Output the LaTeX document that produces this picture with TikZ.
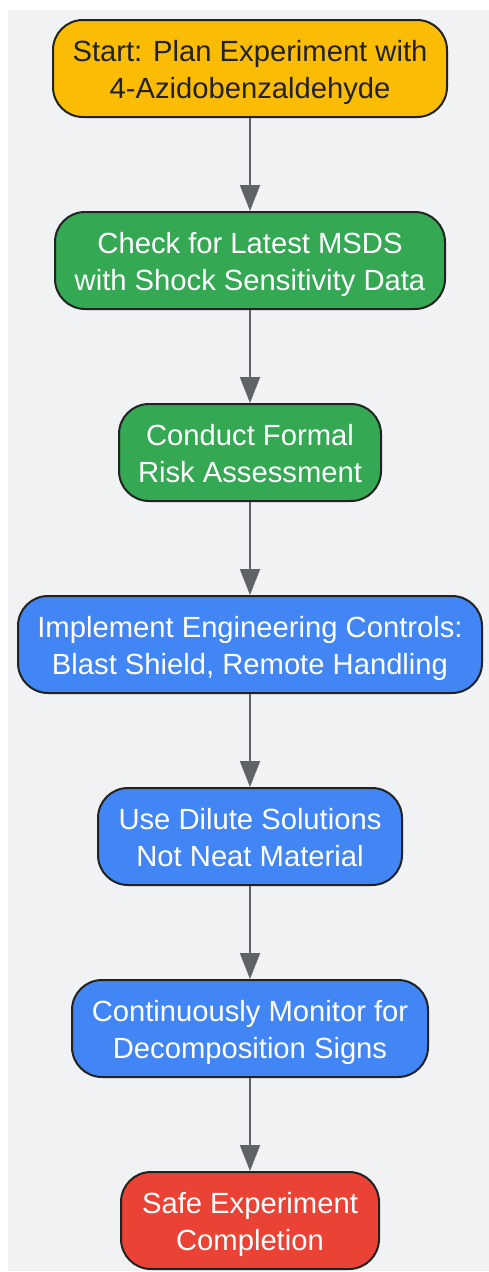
\documentclass[tikz,border=0pt]{standalone}
\usepackage{fontspec}
\setmainfont{Liberation Sans}
\usetikzlibrary{arrows.meta}
\definecolor{bggray}{HTML}{F1F2F4}
\definecolor{cyellow}{HTML}{FBBC05}
\definecolor{cgreen}{HTML}{34A853}
\definecolor{cblue}{HTML}{4285F4}
\definecolor{cred}{HTML}{EA4335}
\definecolor{edgegray}{HTML}{5F6368}
\definecolor{borderdark}{HTML}{222222}
\newcommand{\lstrut}{\rule[-6.6pt]{0pt}{36.6pt}}
\tikzset{
  flowbox/.style={draw=borderdark, line width=2pt, rounded corners=30pt,
    minimum height=97pt, inner sep=0pt, align=center,
    font=\fontsize{29.2}{36.6}\selectfont, text=white},
  flowarrow/.style={draw=edgegray, line width=2pt,
    -{Triangle[length=26pt,width=20pt]}},
}
\begin{document}
\begin{tikzpicture}[x=1pt,y=-1pt]
\useasboundingbox (0,0) rectangle (489,1272);
\fill[bggray] (8,10) rectangle (489,1271);
\node[flowbox, fill=cyellow, text=borderdark, minimum width=394pt] (n1) at (250,68.5) {\lstrut Start: Plan Experiment with\\\lstrut 4-Azidobenzaldehyde};
\node[flowbox, fill=cgreen, minimum width=390pt] (n2) at (250,260.5) {\lstrut Check for Latest MSDS\\\lstrut with Shock Sensitivity Data};
\node[flowbox, fill=cgreen, minimum width=262pt] (n3) at (250,452.5) {\lstrut Conduct Formal\\\lstrut Risk Assessment};
\node[flowbox, fill=cblue, minimum width=464pt] (n4) at (250,644.5) {\lstrut Implement Engineering Controls:\\\lstrut Blast Shield, Remote Handling};
\node[flowbox, fill=cblue, minimum width=304pt] (n5) at (250,836.5) {\lstrut Use Dilute Solutions\\\lstrut Not Neat Material};
\node[flowbox, fill=cblue, minimum width=356pt] (n6) at (250,1028.5) {\lstrut Continuously Monitor for\\\lstrut Decomposition Signs};
\node[flowbox, fill=cred, minimum width=258pt] (n7) at (250,1220.5) {\lstrut Safe Experiment\\\lstrut Completion};
\draw[flowarrow] (n1) -- (n2);
\draw[flowarrow] (n2) -- (n3);
\draw[flowarrow] (n3) -- (n4);
\draw[flowarrow] (n4) -- (n5);
\draw[flowarrow] (n5) -- (n6);
\draw[flowarrow] (n6) -- (n7);
\end{tikzpicture}
\end{document}
